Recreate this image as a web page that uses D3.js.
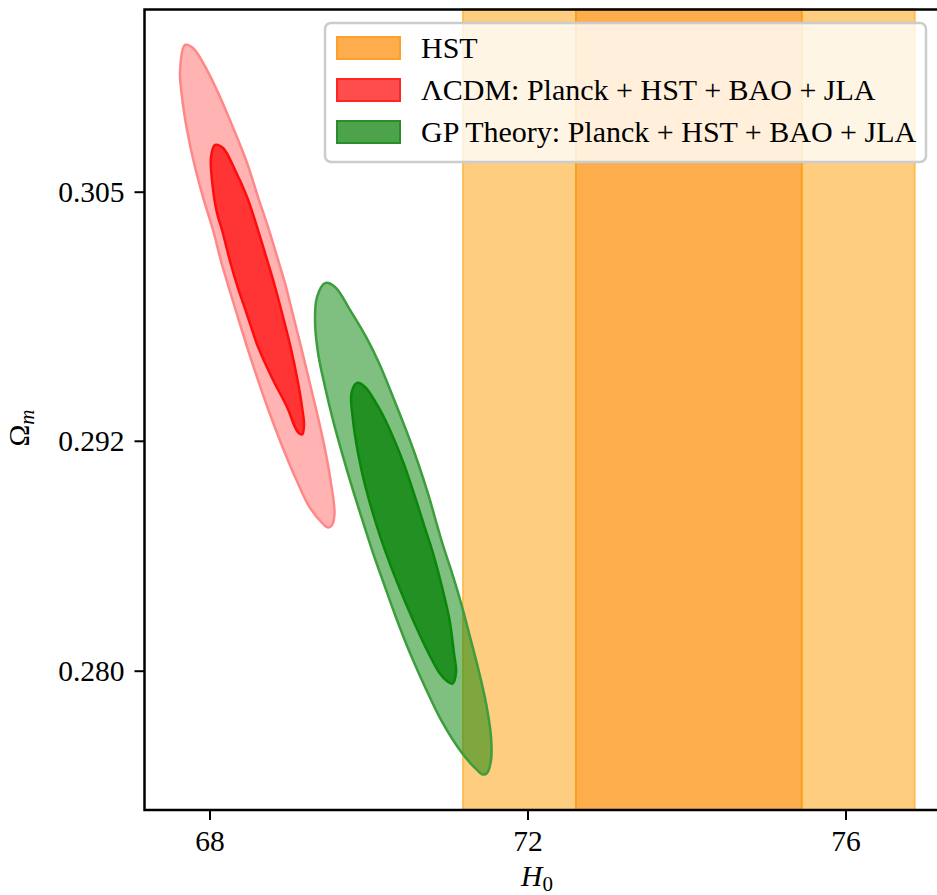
<!DOCTYPE html>
<html><head><meta charset="utf-8">
<script src="https://cdn.jsdelivr.net/npm/d3@7"></script>
<style>html,body{margin:0;padding:0;background:#fff;overflow:hidden}</style>
</head><body><svg id="c" width="937" height="895"></svg>
<script>
// ---- data ----
const xTicks = [68, 72, 76];
const yTicks = [0.280, 0.292, 0.305];
const yTickLabels = ["0.280", "0.292", "0.305"];
const hstMean = 74.03, hstSigma = 1.42;
const hstBands = [[hstMean - 2*hstSigma, hstMean + 2*hstSigma], [hstMean - hstSigma, hstMean + hstSigma]];
const legendLabels = ["HST", "ΛCDM: Planck + HST + BAO + JLA", "GP Theory: Planck + HST + BAO + JLA"];
// contour vertices [H0, Omega_m]
const lcdm95 = [[67.692,0.31266],[67.792,0.31250],[67.969,0.31135],[68.132,0.30994],[68.308,0.30822],[68.472,0.30650],[68.610,0.30472],[68.748,0.30300],[68.874,0.30128],[68.956,0.30013],[69.044,0.29867],[69.151,0.29690],[69.252,0.29517],[69.352,0.29345],[69.447,0.29168],[69.522,0.28995],[69.572,0.28823],[69.541,0.28760],[69.491,0.28747],[69.428,0.28766],[69.258,0.28854],[69.094,0.28995],[68.918,0.29168],[68.755,0.29345],[68.610,0.29517],[68.472,0.29690],[68.340,0.29867],[68.233,0.30013],[68.151,0.30128],[68.044,0.30300],[67.918,0.30472],[67.805,0.30650],[67.717,0.30822],[67.654,0.30994],[67.629,0.31128]];
const lcdm68 = [[68.069,0.30744],[68.170,0.30728],[68.321,0.30613],[68.472,0.30472],[68.610,0.30300],[68.736,0.30128],[68.818,0.30013],[68.912,0.29867],[69.019,0.29690],[69.107,0.29517],[69.164,0.29376],[69.189,0.29282],[69.164,0.29233],[69.119,0.29241],[69.075,0.29272],[68.975,0.29376],[68.799,0.29517],[68.610,0.29690],[68.465,0.29867],[68.346,0.30013],[68.264,0.30128],[68.157,0.30300],[68.094,0.30389],[68.031,0.30561],[68.019,0.30681]];
const gp95 = [[69.453,0.30023],[69.579,0.30003],[69.767,0.29883],[69.969,0.29742],[70.132,0.29606],[70.308,0.29429],[70.472,0.29256],[70.623,0.29084],[70.761,0.28907],[70.862,0.28760],[70.943,0.28646],[71.038,0.28526],[71.164,0.28353],[71.277,0.28176],[71.384,0.28004],[71.478,0.27831],[71.541,0.27654],[71.541,0.27534],[71.491,0.27466],[71.440,0.27458],[71.365,0.27482],[71.176,0.27570],[70.912,0.27743],[70.711,0.27915],[70.522,0.28092],[70.358,0.28265],[70.208,0.28437],[70.057,0.28614],[69.943,0.28760],[69.792,0.28959],[69.667,0.29136],[69.553,0.29308],[69.453,0.29481],[69.365,0.29658],[69.327,0.29830],[69.352,0.29950]];
const gp68 = [[69.855,0.29502],[69.956,0.29481],[70.145,0.29361],[70.308,0.29220],[70.440,0.29084],[70.585,0.28907],[70.698,0.28760],[70.811,0.28614],[70.925,0.28437],[71.019,0.28265],[71.075,0.28092],[71.101,0.27993],[71.057,0.27933],[70.987,0.27946],[70.893,0.27988],[70.755,0.28092],[70.560,0.28265],[70.384,0.28437],[70.220,0.28614],[70.101,0.28760],[69.962,0.28959],[69.868,0.29136],[69.805,0.29308],[69.786,0.29449]];

// ---- layout ----
const L = 144.5, R = 940, T = 9.5, B = 810;
const x = d3.scaleLinear().domain([67.182, 77.189]).range([L, R]);
const y = d3.scaleLinear().domain([0.27273, 0.31451]).range([B, T]);
const svg = d3.select("#c");
const FONT = "'Liberation Serif','Times New Roman',serif";

// HST bands
const bandStyles = [{fill:"#fecd7f", stroke:"#fdbd55"}, {fill:"#fdad4b", stroke:"#fb9e1e"}];
hstBands.forEach((b, i) => {
  svg.append("rect").attr("x", x(b[0])).attr("y", T).attr("width", x(b[1]) - x(b[0])).attr("height", B - T)
    .attr("fill", bandStyles[i].fill).attr("stroke", bandStyles[i].stroke).attr("stroke-width", 2);
});

const line = d3.line().x(d => x(d[0])).y(d => y(d[1])).curve(d3.curveCatmullRomClosed.alpha(0.5));
const contours = [
  {d: lcdm95, fill:"#ffb3b3", fo:1, stroke:"#ff8787"},
  {d: lcdm68, fill:"#ff3535", fo:1, stroke:"#ff0d0d"},
  {d: gp95, fill:"#008000", fo:0.5, stroke:"#3c9e3c"},
  {d: gp68, fill:"#239023", fo:1, stroke:"#0a870a"}
];
contours.forEach(c => {
  svg.append("path").attr("d", line(c.d)).attr("fill", c.fill).attr("fill-opacity", c.fo)
    .attr("stroke", c.stroke).attr("stroke-width", 2.5).attr("stroke-linejoin", "round");
});

// axes
const xAxis = d3.axisBottom(x).tickValues(xTicks).tickSize(10).tickPadding(10).tickFormat(d3.format("d"));
const gx = svg.append("g").attr("transform", `translate(0,${B})`).call(xAxis);
const yAxis = d3.axisLeft(y).tickValues(yTicks).tickSize(10).tickPadding(10).tickFormat((d, i) => yTickLabels[i]);
const gy = svg.append("g").attr("transform", `translate(${L},0)`).call(yAxis);
[gx, gy].forEach(g => {
  g.select(".domain").remove();
  g.selectAll(".tick line").attr("stroke", "#000").attr("stroke-width", 2);
  g.selectAll(".tick text").attr("font-family", FONT).attr("font-size", 29.5).attr("fill", "#000");
});
// spines
svg.append("path").attr("d", `M${R},${T}H${L}V${B}H${R}`).attr("fill", "none").attr("stroke", "#000").attr("stroke-width", 2.5);

// axis labels
const xl = svg.append("text").attr("x", 537).attr("y", 886).attr("text-anchor", "middle")
  .attr("font-family", FONT).attr("font-size", 29.5);
xl.append("tspan").attr("font-style", "italic").text("H");
xl.append("tspan").attr("font-size", 21).attr("dy", 5).text("0");
const yl = svg.append("text").attr("transform", "translate(29,428) rotate(-90)").attr("text-anchor", "middle")
  .attr("font-family", FONT).attr("font-size", 29.5);
yl.append("tspan").text("Ω");
yl.append("tspan").attr("font-style", "italic").attr("font-size", 21).attr("dy", 5).text("m");

// legend
const lg = svg.append("g");
lg.append("rect").attr("x", 325).attr("y", 23).attr("width", 601).attr("height", 139).attr("rx", 6)
  .attr("fill", "#fff").attr("fill-opacity", 0.8).attr("stroke", "#cccccc").attr("stroke-width", 2.5);
const patchStyles = [{fill:"#fdad4b", stroke:"#fd9f2a"}, {fill:"#ff4d4d", stroke:"#ff2525"}, {fill:"#4ca34c", stroke:"#2a8d2a"}];
legendLabels.forEach((t, i) => {
  const cy = 48 + i * 42;
  lg.append("rect").attr("x", 337).attr("y", cy - 11).attr("width", 63).attr("height", 22)
    .attr("fill", patchStyles[i].fill).attr("stroke", patchStyles[i].stroke).attr("stroke-width", 2);
  lg.append("text").attr("x", 421).attr("y", cy + 10).attr("font-family", FONT).attr("font-size", 30)
    .attr("fill", "#000").text(t);
});
</script></body></html>
